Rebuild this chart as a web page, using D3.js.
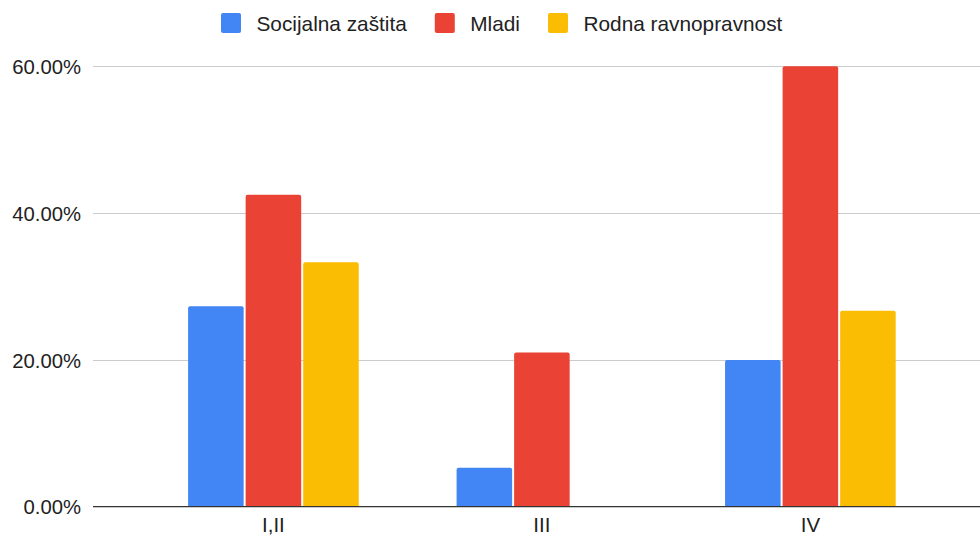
<!DOCTYPE html>
<html>
<head>
<meta charset="utf-8">
<script src="https://cdn.jsdelivr.net/npm/d3@7"></script>
<style>
  html, body { margin: 0; padding: 0; background: #fff; }
  svg { display: block; font-family: "Liberation Sans", Arial, sans-serif; }
</style>
</head>
<body>
<svg id="chart" width="980" height="538"></svg>
<script>
const categories = ["I,II", "III", "IV"];
const seriesNames = ["Socijalna zaštita", "Mladi", "Rodna ravnopravnost"];
const socijalnaZastita = [27.3, 5.3, 20.0];
const mladi = [42.5, 21.0, 60.0];
const rodnaRavnopravnost = [33.3, 0, 26.7];
const yTicks = [0, 20, 40, 60];
const colors = ["#4285F4", "#EA4335", "#FBBC04"];

const seriesValues = [socijalnaZastita, mladi, rodnaRavnopravnost];
const data = categories.map((c, i) => ({
  cat: c,
  vals: seriesNames.map((s, j) => ({ s, v: seriesValues[j][i], color: colors[j] }))
}));

const svg = d3.select("#chart");
const mLeft = 91.8, mRight = 992, mTop = 66.3, mBottom = 506.7;

const y = d3.scaleLinear().domain([0, 60]).range([mBottom, mTop]);
const x0 = d3.scaleBand().domain(categories).range([mLeft, mRight])
  .paddingInner(0.357).paddingOuter(0.355);
const x1 = d3.scaleBand().domain(seriesNames).range([0, x0.bandwidth()]);

// gridlines
svg.append("g").selectAll("line").data(yTicks.filter(t => t > 0)).join("line")
  .attr("x1", 93).attr("x2", 980)
  .attr("y1", d => Math.round(y(d)) + 0.5).attr("y2", d => Math.round(y(d)) + 0.5)
  .attr("stroke", "#cccccc").attr("stroke-width", 1);

// y axis labels
const yAxis = d3.axisLeft(y).tickValues(yTicks).tickSize(0).tickPadding(0)
  .tickFormat(d => d.toFixed(2) + "%");
const yg = svg.append("g").attr("transform", `translate(81,0)`).call(yAxis);
yg.select(".domain").remove();
yg.selectAll("text").attr("font-size", 20.3).attr("fill", "#222").attr("dy", "0.35em")
  .attr("font-family", "'Liberation Sans', Arial, sans-serif");

// bars
const groups = svg.append("g").selectAll("g").data(data).join("g")
  .attr("transform", d => `translate(${x0(d.cat)},0)`);
groups.selectAll("path").data(d => d.vals.filter(v => v.v > 0)).join("path")
  .attr("fill", d => d.color)
  .attr("d", d => {
    const bx = x1(d.s) + 1, bw = x1.bandwidth() - 2;
    const by = y(d.v), r = 2;
    return `M${bx},${mBottom} L${bx},${by + r} Q${bx},${by} ${bx + r},${by} L${bx + bw - r},${by} Q${bx + bw},${by} ${bx + bw},${by + r} L${bx + bw},${mBottom} Z`;
  });

// baseline
svg.append("line").attr("x1", 93).attr("x2", 980)
  .attr("y1", mBottom).attr("y2", mBottom)
  .attr("stroke", "#333333").attr("stroke-width", 1.3);

// x axis labels
const xAxis = d3.axisBottom(x0).tickSize(0).tickPadding(0);
const xg = svg.append("g").attr("transform", `translate(0,${mBottom})`).call(xAxis);
xg.select(".domain").remove();
xg.selectAll("text").attr("font-size", 20.5).attr("fill", "#222")
  .attr("y", 25.5).attr("dy", "0")
  .attr("font-family", "'Liberation Sans', Arial, sans-serif");

// legend
const legend = svg.append("g");
let lx = 221;
seriesNames.forEach((s, i) => {
  legend.append("rect").attr("x", lx).attr("y", 13).attr("width", 20).attr("height", 20)
    .attr("rx", 2).attr("fill", colors[i]);
  const t = legend.append("text").attr("x", lx + 35.5).attr("y", 30.5)
    .attr("font-size", 20.8).attr("fill", "#222").text(s);
  const w = t.node().getComputedTextLength();
  lx = lx + 35.5 + w + 28;
});
</script>
</body>
</html>
